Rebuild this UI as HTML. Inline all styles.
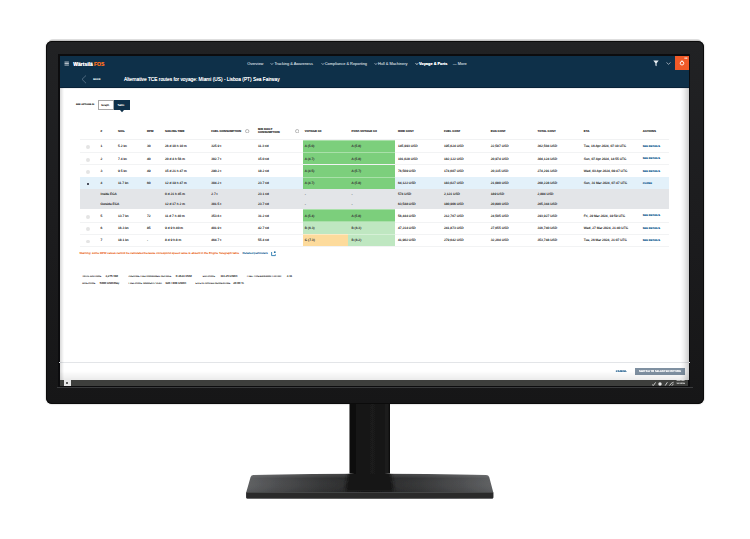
<!DOCTYPE html>
<html>
<head>
<meta charset="utf-8">
<style>
html,body{margin:0;padding:0;}
body{width:750px;height:539px;background:#fff;position:relative;overflow:hidden;font-family:"Liberation Sans",sans-serif;text-rendering:geometricPrecision;}
.a{position:absolute;}
.t{position:absolute;white-space:nowrap;line-height:1;}
#rim{left:49px;top:39px;width:652px;height:4px;background:linear-gradient(#e6e6e6,#bdbdbd);border-radius:5px 5px 0 0;}
#bezel{left:46px;top:41px;width:658px;height:363px;background:linear-gradient(#212224,#1c1c1e 50%,#161617);border-radius:6px;box-shadow:inset 0 0 0 1px #0b0b0b,0 0 1.5px rgba(0,0,0,0.45);filter:blur(0.3px);}
#scrborder{left:58px;top:54px;width:632px;height:333px;background:#0c0c0e;}
#neck{left:349px;top:403px;width:41px;height:71px;background:linear-gradient(90deg,#111 0%,#1e1e1e 30%,#232323 60%,#141414 100%);border-radius:0 0 3px 3px;}
</style>
</head>
<body>
<div class="a" id="rim"></div>
<div class="a" id="bezel"></div>
<svg class="a" style="left:0;top:0" width="750" height="539">
  <defs>
    <linearGradient id="bs" x1="246" x2="493" y1="0" y2="0" gradientUnits="userSpaceOnUse">
      <stop offset="0" stop-color="#5f6163"/>
      <stop offset="0.12" stop-color="#4d4e50"/>
      <stop offset="0.30" stop-color="#353637"/>
      <stop offset="0.5" stop-color="#242425"/>
      <stop offset="0.70" stop-color="#353637"/>
      <stop offset="0.88" stop-color="#4d4e50"/>
      <stop offset="1" stop-color="#5f6163"/>
    </linearGradient>
    <linearGradient id="bv" x1="0" x2="0" y1="475" y2="492" gradientUnits="userSpaceOnUse">
      <stop offset="0" stop-color="#fff" stop-opacity="0.10"/>
      <stop offset="0.2" stop-color="#fff" stop-opacity="0.0"/>
      <stop offset="1" stop-color="#000" stop-opacity="0.08"/>
    </linearGradient>
    <linearGradient id="nk" x1="349.5" x2="390" y1="0" y2="0" gradientUnits="userSpaceOnUse">
      <stop offset="0" stop-color="#0b0b0b"/>
      <stop offset="0.2" stop-color="#131313"/>
      <stop offset="0.55" stop-color="#1a1a1a"/>
      <stop offset="0.85" stop-color="#171717"/>
      <stop offset="0.94" stop-color="#1f1f1f"/>
      <stop offset="1" stop-color="#0d0d0d"/>
    </linearGradient>
    <filter id="blr" x="-20%" y="-50%" width="140%" height="200%"><feGaussianBlur stdDeviation="1.6"/></filter>
    <filter id="blr2"><feGaussianBlur stdDeviation="0.35"/></filter>
    <clipPath id="bclip"><path d="M253.5,475 Q369.5,472.6 486,475 Q488.5,475 489.2,477 L493.3,492.4 L246.2,492.4 L250.6,477 Q251.3,475 253.5,475 Z"/></clipPath>
  </defs>
  <g filter="url(#blr2)">
  <path d="M253.5,475 Q369.5,472.6 486,475 Q488.5,475 489.2,477 L493.3,492.4 L493.3,497.2 Q493.3,498.5 492,498.5 L247.5,498.5 Q246.2,498.5 246.2,497.2 L246.2,492.4 L250.6,477 Q251.3,475 253.5,475 Z" fill="url(#bs)"/>
  <path d="M253.5,475 Q369.5,472.6 486,475 Q488.5,475 489.2,477 L493.3,492.4 L246.2,492.4 L250.6,477 Q251.3,475 253.5,475 Z" fill="url(#bv)"/>
  <g clip-path="url(#bclip)"><path d="M348.5,470 L390.5,470 L394,492 L345,492 Z" fill="#131313" filter="url(#blr)"/></g>
  <rect x="246.2" y="492.4" width="247.1" height="6.2" rx="1" fill="#29292a"/>
  <rect x="246.2" y="492.2" width="247.1" height="0.8" fill="#4a4b4c"/>
  <path d="M349.5,404 L390,404 L390,473.5 Q369.75,476 349.5,473.5 Z" fill="url(#nk)"/>
  </g>
</svg>
<div class="a" id="scrborder"></div>
<div class="a" style="left:57px;top:387.2px;width:636px;height:1px;background:#3a3b3d;"></div>
<div class="a" id="scr" style="left:0;top:0;width:750px;height:539px;filter:blur(0.28px);">
<div class="a" style="left:59.5px;top:55.5px;width:629.5px;height:324.5px;background:#fff;"></div>
<div class="a" style="left:59.5px;top:55.5px;width:629.5px;height:32px;background:#0e3049;"></div>
<div class="a" style="left:59.5px;top:87px;width:629.5px;height:1px;background:#082238;"></div>
<div class="a" style="left:59.5px;top:88px;width:629.5px;height:1.2px;background:linear-gradient(rgba(0,20,40,0.12),rgba(0,20,40,0));"></div>
<svg class="a" style="left:64px;top:60.5px" width="5.5" height="5" viewBox="0 0 5.5 5"><rect x="0.5" y="0.6" width="4.4" height="0.9" fill="#c8d0d8"/><rect x="0.5" y="2.1" width="4.4" height="0.9" fill="#c8d0d8"/><rect x="0.5" y="3.6" width="4.4" height="0.9" fill="#c8d0d8"/></svg>
<span class="t" style="left:73.3px;top:61.70px;font-size:5.00px;color:#fff;font-weight:bold;text-shadow:0 0 0.3px #fff;text-rendering:auto;">Wärtsilä</span>
<span class="t" style="left:94px;top:61.70px;font-size:5.00px;color:#f26b21;font-weight:bold;text-shadow:0 0 0.3px #f26b21;text-rendering:auto;">FOS</span>
<span class="t" style="left:247.2px;top:61.83px;font-size:3.90px;color:#b9c4cf;font-weight:normal;text-shadow:0 0 0.3px #b9c4cf;text-rendering:auto;">Overview</span>
<svg class="a" style="left:270.2px;top:61.7px" width="4" height="4"><polyline points="0.6,1.2 1.9,2.6 3.2,1.2" fill="none" stroke="#b9c4cf" stroke-width="0.75"/></svg>
<span class="t" style="left:274.4px;top:61.83px;font-size:3.90px;color:#b9c4cf;font-weight:normal;text-shadow:0 0 0.3px #b9c4cf;text-rendering:auto;">Tracking &amp; Awareness</span>
<svg class="a" style="left:320.6px;top:61.7px" width="4" height="4"><polyline points="0.6,1.2 1.9,2.6 3.2,1.2" fill="none" stroke="#b9c4cf" stroke-width="0.75"/></svg>
<span class="t" style="left:324.8px;top:61.83px;font-size:3.90px;color:#b9c4cf;font-weight:normal;text-shadow:0 0 0.3px #b9c4cf;text-rendering:auto;">Compliance &amp; Reporting</span>
<svg class="a" style="left:373.8px;top:61.7px" width="4" height="4"><polyline points="0.6,1.2 1.9,2.6 3.2,1.2" fill="none" stroke="#b9c4cf" stroke-width="0.75"/></svg>
<span class="t" style="left:378px;top:61.83px;font-size:3.90px;color:#b9c4cf;font-weight:normal;text-shadow:0 0 0.3px #b9c4cf;text-rendering:auto;">Hull &amp; Machinery</span>
<svg class="a" style="left:414.8px;top:61.7px" width="4" height="4"><polyline points="0.6,1.2 1.9,2.6 3.2,1.2" fill="none" stroke="#fff" stroke-width="0.75"/></svg>
<span class="t" style="left:419px;top:61.83px;font-size:3.90px;color:#fff;font-weight:bold;text-shadow:0 0 0.3px #fff;text-rendering:auto;">Voyage &amp; Ports</span>
<span class="t" style="left:452.8px;top:61.83px;font-size:3.90px;color:#b9c4cf;font-weight:normal;text-shadow:0 0 0.3px #b9c4cf;text-rendering:auto;">— More</span>
<svg class="a" style="left:653px;top:59.5px" width="6" height="7"><path d="M0.3,0.5 H5.7 L3.6,3.2 V6.3 L2.4,5.6 V3.2 Z" fill="#e8edf2"/></svg>
<svg class="a" style="left:665.5px;top:61.5px" width="5" height="3"><polyline points="0.5,0.5 2.5,2.3 4.5,0.5" fill="none" stroke="#c8d0d8" stroke-width="0.7"/></svg>
<div class="a" style="left:675px;top:56px;width:14px;height:14px;background:#f05a28;"></div>
<svg class="a" style="left:679px;top:60px" width="6" height="6"><circle cx="3" cy="3.2" r="1.8" fill="none" stroke="#fff" stroke-width="0.9"/><rect x="2.5" y="0.4" width="1" height="1" fill="#fff"/></svg>
<span class="t" style="left:684.6px;top:57.88px;font-size:2.40px;color:#fbe3d6;font-weight:normal;text-shadow:0 0 0.1px #fbe3d6;">88</span>
<svg class="a" style="left:81px;top:75px" width="6" height="9"><polyline points="5,0.5 1,4.3 5,8.2" fill="none" stroke="#6c8296" stroke-width="0.7"/></svg>
<span class="t" style="left:93.3px;top:79.25px;font-size:2.50px;color:#dfe6ec;font-weight:bold;text-shadow:0 0 0.3px #dfe6ec;">BACK</span>
<span class="t" style="left:124px;top:78.16px;font-size:4.80px;color:#fff;font-weight:normal;text-shadow:0 0 0.35px #fff;text-rendering:auto;">Alternative TCE routes for voyage: Miami (US) - Lisboa (PT) Sea Fairway</span>
<span class="t" style="left:76px;top:103.92px;font-size:2.25px;color:#333;font-weight:bold;text-shadow:0 0 0.3px #333;">SEE OPTIONS IN</span>
<div class="a" style="left:97.5px;top:100px;width:16.5px;height:10px;background:#fff;box-sizing:border-box;border:0.6px solid #a8a8a8;"></div>
<span class="t" style="left:101.3px;top:104.06px;font-size:2.80px;color:#333;font-weight:normal;text-shadow:0 0 0.3px #333;">Graph</span>
<div class="a" style="left:114px;top:100px;width:15.5px;height:10px;background:#0e3049;"></div>
<span class="t" style="left:117.6px;top:104.06px;font-size:2.80px;color:#fff;font-weight:normal;text-shadow:0 0 0.3px #fff;">Table</span>
<svg class="a" style="left:120px;top:109.8px" width="4" height="3"><polygon points="0,0 4,0 2,2.2" fill="#0e3049"/></svg>
<span class="t" style="left:100.5px;top:130.03px;font-size:2.90px;color:#444;font-weight:bold;text-shadow:0 0 0.3px #444;">#</span>
<span class="t" style="left:118px;top:130.03px;font-size:2.90px;color:#444;font-weight:bold;text-shadow:0 0 0.3px #444;">SOG</span>
<span class="t" style="left:147px;top:130.03px;font-size:2.90px;color:#444;font-weight:bold;text-shadow:0 0 0.3px #444;">RPM</span>
<span class="t" style="left:165px;top:130.03px;font-size:2.90px;color:#444;font-weight:bold;text-shadow:0 0 0.3px #444;">SAILING TIME</span>
<span class="t" style="left:211.2px;top:130.03px;font-size:2.90px;color:#444;font-weight:bold;text-shadow:0 0 0.3px #444;">FUEL CONSUMPTION</span>
<span class="t" style="left:304.8px;top:130.03px;font-size:2.90px;color:#444;font-weight:bold;text-shadow:0 0 0.3px #444;">VOYAGE CII</span>
<span class="t" style="left:351.5px;top:130.03px;font-size:2.90px;color:#444;font-weight:bold;text-shadow:0 0 0.3px #444;">POST-VOYAGE CII</span>
<span class="t" style="left:398px;top:130.03px;font-size:2.90px;color:#444;font-weight:bold;text-shadow:0 0 0.3px #444;">HIRE COST</span>
<span class="t" style="left:444px;top:130.03px;font-size:2.90px;color:#444;font-weight:bold;text-shadow:0 0 0.3px #444;">FUEL COST</span>
<span class="t" style="left:490.8px;top:130.03px;font-size:2.90px;color:#444;font-weight:bold;text-shadow:0 0 0.3px #444;">EUA COST</span>
<span class="t" style="left:537.5px;top:130.03px;font-size:2.90px;color:#444;font-weight:bold;text-shadow:0 0 0.3px #444;">TOTAL COST</span>
<span class="t" style="left:583.8px;top:130.03px;font-size:2.90px;color:#444;font-weight:bold;text-shadow:0 0 0.3px #444;">ETA</span>
<span class="t" style="left:642.8px;top:130.03px;font-size:2.90px;color:#444;font-weight:bold;text-shadow:0 0 0.3px #444;">ACTIONS</span>
<span class="t" style="left:258px;top:127.93px;font-size:2.90px;color:#444;font-weight:bold;text-shadow:0 0 0.3px #444;">M/E DAILY</span>
<span class="t" style="left:258px;top:131.13px;font-size:2.90px;color:#444;font-weight:bold;text-shadow:0 0 0.3px #444;">CONSUMPTION</span>
<svg class="a" style="left:245.3px;top:128.70000000000002px" width="4.4" height="4.4"><circle cx="2.2" cy="2.2" r="1.7" fill="none" stroke="#666" stroke-width="0.45"/></svg>
<svg class="a" style="left:294.6px;top:128.70000000000002px" width="4.4" height="4.4"><circle cx="2.2" cy="2.2" r="1.7" fill="none" stroke="#666" stroke-width="0.45"/></svg>
<div class="a" style="left:80px;top:139.3px;width:589px;height:0.6px;background:#f1f2f3;"></div>
<div class="a" style="left:302.5px;top:139.9px;width:45.8px;height:12.4px;background:#a9e0a9;"></div>
<div class="a" style="left:348.3px;top:139.9px;width:46.5px;height:12.4px;background:#a9e0a9;"></div>
<div class="a" style="left:302.5px;top:140.5px;width:45.8px;height:11.200000000000001px;background:#7ccf7c;"></div>
<div class="a" style="left:348.3px;top:140.5px;width:46.5px;height:11.200000000000001px;background:#7ccf7c;"></div>
<div class="a" style="left:86.2px;top:145.40px;width:3.8px;height:3.8px;border-radius:50%;background:#e4e4e4;"></div>
<span class="t" style="left:100.5px;top:145.12px;font-size:3.25px;color:#3a3a3a;font-weight:normal;text-shadow:0 0 0.3px #3a3a3a;">1</span>
<span class="t" style="left:118px;top:145.12px;font-size:3.25px;color:#3a3a3a;font-weight:normal;text-shadow:0 0 0.3px #3a3a3a;">5.2 kn</span>
<span class="t" style="left:147px;top:145.12px;font-size:3.25px;color:#3a3a3a;font-weight:normal;text-shadow:0 0 0.3px #3a3a3a;">30</span>
<span class="t" style="left:165px;top:145.12px;font-size:3.25px;color:#3a3a3a;font-weight:normal;text-shadow:0 0 0.3px #3a3a3a;">26 d 10 h 10 m</span>
<span class="t" style="left:211.2px;top:145.12px;font-size:3.25px;color:#3a3a3a;font-weight:normal;text-shadow:0 0 0.3px #3a3a3a;">325.9 t</span>
<span class="t" style="left:258px;top:145.12px;font-size:3.25px;color:#3a3a3a;font-weight:normal;text-shadow:0 0 0.3px #3a3a3a;">11.3 t/d</span>
<span class="t" style="left:304.8px;top:145.12px;font-size:3.25px;color:#3a3a3a;font-weight:normal;text-shadow:0 0 0.3px #3a3a3a;">A (5.0)</span>
<span class="t" style="left:351.5px;top:145.12px;font-size:3.25px;color:#3a3a3a;font-weight:normal;text-shadow:0 0 0.3px #3a3a3a;">A (5.8)</span>
<span class="t" style="left:398px;top:145.12px;font-size:3.25px;color:#3a3a3a;font-weight:normal;text-shadow:0 0 0.3px #3a3a3a;">145,993 USD</span>
<span class="t" style="left:444px;top:145.12px;font-size:3.25px;color:#3a3a3a;font-weight:normal;text-shadow:0 0 0.3px #3a3a3a;">195,624 USD</span>
<span class="t" style="left:490.8px;top:145.12px;font-size:3.25px;color:#3a3a3a;font-weight:normal;text-shadow:0 0 0.3px #3a3a3a;">22,587 USD</span>
<span class="t" style="left:537.5px;top:145.12px;font-size:3.25px;color:#3a3a3a;font-weight:normal;text-shadow:0 0 0.3px #3a3a3a;">362,504 USD</span>
<span class="t" style="left:583.8px;top:145.12px;font-size:3.25px;color:#3a3a3a;font-weight:normal;text-shadow:0 0 0.3px #3a3a3a;">Tue, 16 Apr 2024, 07:10 UTC</span>
<span class="t" style="left:642.8px;top:146.00px;font-size:2.65px;color:#1d5f93;font-weight:bold;text-shadow:0 0 0.4px #1d5f93;">SEE DETAILS</span>
<div class="a" style="left:80px;top:152.0px;width:589px;height:0.6px;background:#f2f3f4;"></div>
<div class="a" style="left:302.5px;top:152.3px;width:45.8px;height:12.4px;background:#a9e0a9;"></div>
<div class="a" style="left:348.3px;top:152.3px;width:46.5px;height:12.4px;background:#a9e0a9;"></div>
<div class="a" style="left:302.5px;top:152.9px;width:45.8px;height:11.200000000000001px;background:#7ccf7c;"></div>
<div class="a" style="left:348.3px;top:152.9px;width:46.5px;height:11.200000000000001px;background:#7ccf7c;"></div>
<div class="a" style="left:86.2px;top:157.80px;width:3.8px;height:3.8px;border-radius:50%;background:#e4e4e4;"></div>
<span class="t" style="left:100.5px;top:157.53px;font-size:3.25px;color:#3a3a3a;font-weight:normal;text-shadow:0 0 0.3px #3a3a3a;">2</span>
<span class="t" style="left:118px;top:157.53px;font-size:3.25px;color:#3a3a3a;font-weight:normal;text-shadow:0 0 0.3px #3a3a3a;">7.4 kn</span>
<span class="t" style="left:147px;top:157.53px;font-size:3.25px;color:#3a3a3a;font-weight:normal;text-shadow:0 0 0.3px #3a3a3a;">40</span>
<span class="t" style="left:165px;top:157.53px;font-size:3.25px;color:#3a3a3a;font-weight:normal;text-shadow:0 0 0.3px #3a3a3a;">20 d 4 h 56 m</span>
<span class="t" style="left:211.2px;top:157.53px;font-size:3.25px;color:#3a3a3a;font-weight:normal;text-shadow:0 0 0.3px #3a3a3a;">302.7 t</span>
<span class="t" style="left:258px;top:157.53px;font-size:3.25px;color:#3a3a3a;font-weight:normal;text-shadow:0 0 0.3px #3a3a3a;">15.0 t/d</span>
<span class="t" style="left:304.8px;top:157.53px;font-size:3.25px;color:#3a3a3a;font-weight:normal;text-shadow:0 0 0.3px #3a3a3a;">A (4.7)</span>
<span class="t" style="left:351.5px;top:157.53px;font-size:3.25px;color:#3a3a3a;font-weight:normal;text-shadow:0 0 0.3px #3a3a3a;">A (5.8)</span>
<span class="t" style="left:398px;top:157.53px;font-size:3.25px;color:#3a3a3a;font-weight:normal;text-shadow:0 0 0.3px #3a3a3a;">101,028 USD</span>
<span class="t" style="left:444px;top:157.53px;font-size:3.25px;color:#3a3a3a;font-weight:normal;text-shadow:0 0 0.3px #3a3a3a;">182,122 USD</span>
<span class="t" style="left:490.8px;top:157.53px;font-size:3.25px;color:#3a3a3a;font-weight:normal;text-shadow:0 0 0.3px #3a3a3a;">20,974 USD</span>
<span class="t" style="left:537.5px;top:157.53px;font-size:3.25px;color:#3a3a3a;font-weight:normal;text-shadow:0 0 0.3px #3a3a3a;">304,124 USD</span>
<span class="t" style="left:583.8px;top:157.53px;font-size:3.25px;color:#3a3a3a;font-weight:normal;text-shadow:0 0 0.3px #3a3a3a;">Sun, 07 Apr 2024, 14:55 UTC</span>
<span class="t" style="left:642.8px;top:158.41px;font-size:2.65px;color:#1d5f93;font-weight:bold;text-shadow:0 0 0.4px #1d5f93;">SEE DETAILS</span>
<div class="a" style="left:80px;top:164.4px;width:589px;height:0.6px;background:#f2f3f4;"></div>
<div class="a" style="left:302.5px;top:164.7px;width:45.8px;height:12.5px;background:#a9e0a9;"></div>
<div class="a" style="left:348.3px;top:164.7px;width:46.5px;height:12.5px;background:#a9e0a9;"></div>
<div class="a" style="left:302.5px;top:165.29999999999998px;width:45.8px;height:11.3px;background:#7ccf7c;"></div>
<div class="a" style="left:348.3px;top:165.29999999999998px;width:46.5px;height:11.3px;background:#7ccf7c;"></div>
<div class="a" style="left:86.2px;top:170.25px;width:3.8px;height:3.8px;border-radius:50%;background:#e4e4e4;"></div>
<span class="t" style="left:100.5px;top:169.97px;font-size:3.25px;color:#3a3a3a;font-weight:normal;text-shadow:0 0 0.3px #3a3a3a;">3</span>
<span class="t" style="left:118px;top:169.97px;font-size:3.25px;color:#3a3a3a;font-weight:normal;text-shadow:0 0 0.3px #3a3a3a;">9.5 kn</span>
<span class="t" style="left:147px;top:169.97px;font-size:3.25px;color:#3a3a3a;font-weight:normal;text-shadow:0 0 0.3px #3a3a3a;">49</span>
<span class="t" style="left:165px;top:169.97px;font-size:3.25px;color:#3a3a3a;font-weight:normal;text-shadow:0 0 0.3px #3a3a3a;">15 d 21 h 47 m</span>
<span class="t" style="left:211.2px;top:169.97px;font-size:3.25px;color:#3a3a3a;font-weight:normal;text-shadow:0 0 0.3px #3a3a3a;">290.2 t</span>
<span class="t" style="left:258px;top:169.97px;font-size:3.25px;color:#3a3a3a;font-weight:normal;text-shadow:0 0 0.3px #3a3a3a;">18.2 t/d</span>
<span class="t" style="left:304.8px;top:169.97px;font-size:3.25px;color:#3a3a3a;font-weight:normal;text-shadow:0 0 0.3px #3a3a3a;">A (4.5)</span>
<span class="t" style="left:351.5px;top:169.97px;font-size:3.25px;color:#3a3a3a;font-weight:normal;text-shadow:0 0 0.3px #3a3a3a;">A (5.7)</span>
<span class="t" style="left:398px;top:169.97px;font-size:3.25px;color:#3a3a3a;font-weight:normal;text-shadow:0 0 0.3px #3a3a3a;">76,509 USD</span>
<span class="t" style="left:444px;top:169.97px;font-size:3.25px;color:#3a3a3a;font-weight:normal;text-shadow:0 0 0.3px #3a3a3a;">174,607 USD</span>
<span class="t" style="left:490.8px;top:169.97px;font-size:3.25px;color:#3a3a3a;font-weight:normal;text-shadow:0 0 0.3px #3a3a3a;">20,115 USD</span>
<span class="t" style="left:537.5px;top:169.97px;font-size:3.25px;color:#3a3a3a;font-weight:normal;text-shadow:0 0 0.3px #3a3a3a;">274,291 USD</span>
<span class="t" style="left:583.8px;top:169.97px;font-size:3.25px;color:#3a3a3a;font-weight:normal;text-shadow:0 0 0.3px #3a3a3a;">Wed, 03 Apr 2024, 09:47 UTC</span>
<span class="t" style="left:642.8px;top:170.85px;font-size:2.65px;color:#1d5f93;font-weight:bold;text-shadow:0 0 0.4px #1d5f93;">SEE DETAILS</span>
<div class="a" style="left:80px;top:176.89999999999998px;width:589px;height:0.6px;background:#f2f3f4;"></div>
<div class="a" style="left:80px;top:177.2px;width:589px;height:12.0px;background:#e3f1fa;"></div>
<div class="a" style="left:302.5px;top:177.2px;width:45.8px;height:12.0px;background:#a9e0a9;"></div>
<div class="a" style="left:348.3px;top:177.2px;width:46.5px;height:12.0px;background:#a9e0a9;"></div>
<div class="a" style="left:302.5px;top:177.79999999999998px;width:45.8px;height:10.8px;background:#7ccf7c;"></div>
<div class="a" style="left:348.3px;top:177.79999999999998px;width:46.5px;height:10.8px;background:#7ccf7c;"></div>
<div class="a" style="left:87.1px;top:182.60px;width:2.3px;height:2.3px;border-radius:50%;background:#1a1a2a;"></div>
<span class="t" style="left:100.5px;top:182.22px;font-size:3.25px;color:#3a3a3a;font-weight:normal;text-shadow:0 0 0.3px #3a3a3a;">4</span>
<span class="t" style="left:118px;top:182.22px;font-size:3.25px;color:#3a3a3a;font-weight:normal;text-shadow:0 0 0.3px #3a3a3a;">11.7 kn</span>
<span class="t" style="left:147px;top:182.22px;font-size:3.25px;color:#3a3a3a;font-weight:normal;text-shadow:0 0 0.3px #3a3a3a;">60</span>
<span class="t" style="left:165px;top:182.22px;font-size:3.25px;color:#3a3a3a;font-weight:normal;text-shadow:0 0 0.3px #3a3a3a;">12 d 19 h 47 m</span>
<span class="t" style="left:211.2px;top:182.22px;font-size:3.25px;color:#3a3a3a;font-weight:normal;text-shadow:0 0 0.3px #3a3a3a;">304.2 t</span>
<span class="t" style="left:258px;top:182.22px;font-size:3.25px;color:#3a3a3a;font-weight:normal;text-shadow:0 0 0.3px #3a3a3a;">23.7 t/d</span>
<span class="t" style="left:304.8px;top:182.22px;font-size:3.25px;color:#3a3a3a;font-weight:normal;text-shadow:0 0 0.3px #3a3a3a;">A (4.7)</span>
<span class="t" style="left:351.5px;top:182.22px;font-size:3.25px;color:#3a3a3a;font-weight:normal;text-shadow:0 0 0.3px #3a3a3a;">A (5.8)</span>
<span class="t" style="left:398px;top:182.22px;font-size:3.25px;color:#3a3a3a;font-weight:normal;text-shadow:0 0 0.3px #3a3a3a;">64,122 USD</span>
<span class="t" style="left:444px;top:182.22px;font-size:3.25px;color:#3a3a3a;font-weight:normal;text-shadow:0 0 0.3px #3a3a3a;">183,027 USD</span>
<span class="t" style="left:490.8px;top:182.22px;font-size:3.25px;color:#3a3a3a;font-weight:normal;text-shadow:0 0 0.3px #3a3a3a;">21,080 USD</span>
<span class="t" style="left:537.5px;top:182.22px;font-size:3.25px;color:#3a3a3a;font-weight:normal;text-shadow:0 0 0.3px #3a3a3a;">268,228 USD</span>
<span class="t" style="left:583.8px;top:182.22px;font-size:3.25px;color:#3a3a3a;font-weight:normal;text-shadow:0 0 0.3px #3a3a3a;">Sun, 31 Mar 2024, 07:47 UTC</span>
<span class="t" style="left:642.8px;top:183.10px;font-size:2.65px;color:#1d5f93;font-weight:bold;text-shadow:0 0 0.4px #1d5f93;">CLOSE</span>
<div class="a" style="left:80px;top:189.2px;width:589px;height:20.1px;background:#e3e5e8;"></div>
<span class="t" style="left:100.5px;top:193.33px;font-size:3.25px;color:#3a3a3a;font-weight:normal;text-shadow:0 0 0.3px #3a3a3a;">Inside ECA</span>
<span class="t" style="left:165px;top:193.33px;font-size:3.25px;color:#3a3a3a;font-weight:normal;text-shadow:0 0 0.3px #3a3a3a;">0 d 21 h 45 m</span>
<span class="t" style="left:211.2px;top:193.33px;font-size:3.25px;color:#3a3a3a;font-weight:normal;text-shadow:0 0 0.3px #3a3a3a;">2.7 t</span>
<span class="t" style="left:258px;top:193.33px;font-size:3.25px;color:#3a3a3a;font-weight:normal;text-shadow:0 0 0.3px #3a3a3a;">23.1 t/d</span>
<span class="t" style="left:304.8px;top:193.33px;font-size:3.25px;color:#3a3a3a;font-weight:normal;text-shadow:0 0 0.3px #3a3a3a;">-</span>
<span class="t" style="left:351.5px;top:193.33px;font-size:3.25px;color:#3a3a3a;font-weight:normal;text-shadow:0 0 0.3px #3a3a3a;">-</span>
<span class="t" style="left:398px;top:193.33px;font-size:3.25px;color:#3a3a3a;font-weight:normal;text-shadow:0 0 0.3px #3a3a3a;">574 USD</span>
<span class="t" style="left:444px;top:193.33px;font-size:3.25px;color:#3a3a3a;font-weight:normal;text-shadow:0 0 0.3px #3a3a3a;">2,121 USD</span>
<span class="t" style="left:490.8px;top:193.33px;font-size:3.25px;color:#3a3a3a;font-weight:normal;text-shadow:0 0 0.3px #3a3a3a;">189 USD</span>
<span class="t" style="left:537.5px;top:193.33px;font-size:3.25px;color:#3a3a3a;font-weight:normal;text-shadow:0 0 0.3px #3a3a3a;">2,884 USD</span>
<span class="t" style="left:100.5px;top:203.33px;font-size:3.25px;color:#3a3a3a;font-weight:normal;text-shadow:0 0 0.3px #3a3a3a;">Outside ECA</span>
<span class="t" style="left:165px;top:203.33px;font-size:3.25px;color:#3a3a3a;font-weight:normal;text-shadow:0 0 0.3px #3a3a3a;">12 d 17 h 2 m</span>
<span class="t" style="left:211.2px;top:203.33px;font-size:3.25px;color:#3a3a3a;font-weight:normal;text-shadow:0 0 0.3px #3a3a3a;">301.5 t</span>
<span class="t" style="left:258px;top:203.33px;font-size:3.25px;color:#3a3a3a;font-weight:normal;text-shadow:0 0 0.3px #3a3a3a;">23.7 t/d</span>
<span class="t" style="left:304.8px;top:203.33px;font-size:3.25px;color:#3a3a3a;font-weight:normal;text-shadow:0 0 0.3px #3a3a3a;">-</span>
<span class="t" style="left:351.5px;top:203.33px;font-size:3.25px;color:#3a3a3a;font-weight:normal;text-shadow:0 0 0.3px #3a3a3a;">-</span>
<span class="t" style="left:398px;top:203.33px;font-size:3.25px;color:#3a3a3a;font-weight:normal;text-shadow:0 0 0.3px #3a3a3a;">63,548 USD</span>
<span class="t" style="left:444px;top:203.33px;font-size:3.25px;color:#3a3a3a;font-weight:normal;text-shadow:0 0 0.3px #3a3a3a;">180,906 USD</span>
<span class="t" style="left:490.8px;top:203.33px;font-size:3.25px;color:#3a3a3a;font-weight:normal;text-shadow:0 0 0.3px #3a3a3a;">20,890 USD</span>
<span class="t" style="left:537.5px;top:203.33px;font-size:3.25px;color:#3a3a3a;font-weight:normal;text-shadow:0 0 0.3px #3a3a3a;">265,344 USD</span>
<div class="a" style="left:302.5px;top:209.3px;width:45.8px;height:12.5px;background:#a9e0a9;"></div>
<div class="a" style="left:348.3px;top:209.3px;width:46.5px;height:12.5px;background:#a9e0a9;"></div>
<div class="a" style="left:302.5px;top:209.9px;width:45.8px;height:11.3px;background:#7ccf7c;"></div>
<div class="a" style="left:348.3px;top:209.9px;width:46.5px;height:11.3px;background:#7ccf7c;"></div>
<div class="a" style="left:86.2px;top:214.85px;width:3.8px;height:3.8px;border-radius:50%;background:#e4e4e4;"></div>
<span class="t" style="left:100.5px;top:214.58px;font-size:3.25px;color:#3a3a3a;font-weight:normal;text-shadow:0 0 0.3px #3a3a3a;">5</span>
<span class="t" style="left:118px;top:214.58px;font-size:3.25px;color:#3a3a3a;font-weight:normal;text-shadow:0 0 0.3px #3a3a3a;">13.7 kn</span>
<span class="t" style="left:147px;top:214.58px;font-size:3.25px;color:#3a3a3a;font-weight:normal;text-shadow:0 0 0.3px #3a3a3a;">72</span>
<span class="t" style="left:165px;top:214.58px;font-size:3.25px;color:#3a3a3a;font-weight:normal;text-shadow:0 0 0.3px #3a3a3a;">11 d 7 h 40 m</span>
<span class="t" style="left:211.2px;top:214.58px;font-size:3.25px;color:#3a3a3a;font-weight:normal;text-shadow:0 0 0.3px #3a3a3a;">353.6 t</span>
<span class="t" style="left:258px;top:214.58px;font-size:3.25px;color:#3a3a3a;font-weight:normal;text-shadow:0 0 0.3px #3a3a3a;">31.2 t/d</span>
<span class="t" style="left:304.8px;top:214.58px;font-size:3.25px;color:#3a3a3a;font-weight:normal;text-shadow:0 0 0.3px #3a3a3a;">A (5.4)</span>
<span class="t" style="left:351.5px;top:214.58px;font-size:3.25px;color:#3a3a3a;font-weight:normal;text-shadow:0 0 0.3px #3a3a3a;">A (5.8)</span>
<span class="t" style="left:398px;top:214.58px;font-size:3.25px;color:#3a3a3a;font-weight:normal;text-shadow:0 0 0.3px #3a3a3a;">56,444 USD</span>
<span class="t" style="left:444px;top:214.58px;font-size:3.25px;color:#3a3a3a;font-weight:normal;text-shadow:0 0 0.3px #3a3a3a;">212,767 USD</span>
<span class="t" style="left:490.8px;top:214.58px;font-size:3.25px;color:#3a3a3a;font-weight:normal;text-shadow:0 0 0.3px #3a3a3a;">24,505 USD</span>
<span class="t" style="left:537.5px;top:214.58px;font-size:3.25px;color:#3a3a3a;font-weight:normal;text-shadow:0 0 0.3px #3a3a3a;">293,927 USD</span>
<span class="t" style="left:583.8px;top:214.58px;font-size:3.25px;color:#3a3a3a;font-weight:normal;text-shadow:0 0 0.3px #3a3a3a;">Fri, 29 Mar 2024, 19:59 UTC</span>
<span class="t" style="left:642.8px;top:215.46px;font-size:2.65px;color:#1d5f93;font-weight:bold;text-shadow:0 0 0.4px #1d5f93;">SEE DETAILS</span>
<div class="a" style="left:80px;top:221.5px;width:589px;height:0.6px;background:#f2f3f4;"></div>
<div class="a" style="left:302.5px;top:221.8px;width:45.8px;height:12.4px;background:#d5f0d6;"></div>
<div class="a" style="left:348.3px;top:221.8px;width:46.5px;height:12.4px;background:#d5f0d6;"></div>
<div class="a" style="left:302.5px;top:222.4px;width:45.8px;height:11.200000000000001px;background:#bfe7c1;"></div>
<div class="a" style="left:348.3px;top:222.4px;width:46.5px;height:11.200000000000001px;background:#bfe7c1;"></div>
<div class="a" style="left:86.2px;top:227.30px;width:3.8px;height:3.8px;border-radius:50%;background:#e4e4e4;"></div>
<span class="t" style="left:100.5px;top:227.03px;font-size:3.25px;color:#3a3a3a;font-weight:normal;text-shadow:0 0 0.3px #3a3a3a;">6</span>
<span class="t" style="left:118px;top:227.03px;font-size:3.25px;color:#3a3a3a;font-weight:normal;text-shadow:0 0 0.3px #3a3a3a;">16.3 kn</span>
<span class="t" style="left:147px;top:227.03px;font-size:3.25px;color:#3a3a3a;font-weight:normal;text-shadow:0 0 0.3px #3a3a3a;">85</span>
<span class="t" style="left:165px;top:227.03px;font-size:3.25px;color:#3a3a3a;font-weight:normal;text-shadow:0 0 0.3px #3a3a3a;">9 d 9 h 40 m</span>
<span class="t" style="left:211.2px;top:227.03px;font-size:3.25px;color:#3a3a3a;font-weight:normal;text-shadow:0 0 0.3px #3a3a3a;">401.9 t</span>
<span class="t" style="left:258px;top:227.03px;font-size:3.25px;color:#3a3a3a;font-weight:normal;text-shadow:0 0 0.3px #3a3a3a;">42.7 t/d</span>
<span class="t" style="left:304.8px;top:227.03px;font-size:3.25px;color:#3a3a3a;font-weight:normal;text-shadow:0 0 0.3px #3a3a3a;">B (6.3)</span>
<span class="t" style="left:351.5px;top:227.03px;font-size:3.25px;color:#3a3a3a;font-weight:normal;text-shadow:0 0 0.3px #3a3a3a;">B (6.3)</span>
<span class="t" style="left:398px;top:227.03px;font-size:3.25px;color:#3a3a3a;font-weight:normal;text-shadow:0 0 0.3px #3a3a3a;">47,214 USD</span>
<span class="t" style="left:444px;top:227.03px;font-size:3.25px;color:#3a3a3a;font-weight:normal;text-shadow:0 0 0.3px #3a3a3a;">241,873 USD</span>
<span class="t" style="left:490.8px;top:227.03px;font-size:3.25px;color:#3a3a3a;font-weight:normal;text-shadow:0 0 0.3px #3a3a3a;">27,655 USD</span>
<span class="t" style="left:537.5px;top:227.03px;font-size:3.25px;color:#3a3a3a;font-weight:normal;text-shadow:0 0 0.3px #3a3a3a;">316,740 USD</span>
<span class="t" style="left:583.8px;top:227.03px;font-size:3.25px;color:#3a3a3a;font-weight:normal;text-shadow:0 0 0.3px #3a3a3a;">Wed, 27 Mar 2024, 21:40 UTC</span>
<span class="t" style="left:642.8px;top:227.91px;font-size:2.65px;color:#1d5f93;font-weight:bold;text-shadow:0 0 0.4px #1d5f93;">SEE DETAILS</span>
<div class="a" style="left:80px;top:233.9px;width:589px;height:0.6px;background:#f2f3f4;"></div>
<div class="a" style="left:302.5px;top:234.2px;width:45.8px;height:12.4px;background:#fde9c2;"></div>
<div class="a" style="left:348.3px;top:234.2px;width:46.5px;height:12.4px;background:#d5f0d6;"></div>
<div class="a" style="left:302.5px;top:234.79999999999998px;width:45.8px;height:11.200000000000001px;background:#fddb9c;"></div>
<div class="a" style="left:348.3px;top:234.79999999999998px;width:46.5px;height:11.200000000000001px;background:#bfe7c1;"></div>
<div class="a" style="left:86.2px;top:239.70px;width:3.8px;height:3.8px;border-radius:50%;background:#e4e4e4;"></div>
<span class="t" style="left:100.5px;top:239.42px;font-size:3.25px;color:#3a3a3a;font-weight:normal;text-shadow:0 0 0.3px #3a3a3a;">7</span>
<span class="t" style="left:118px;top:239.42px;font-size:3.25px;color:#3a3a3a;font-weight:normal;text-shadow:0 0 0.3px #3a3a3a;">18.1 kn</span>
<span class="t" style="left:147px;top:239.42px;font-size:3.25px;color:#3a3a3a;font-weight:normal;text-shadow:0 0 0.3px #3a3a3a;">-</span>
<span class="t" style="left:165px;top:239.42px;font-size:3.25px;color:#3a3a3a;font-weight:normal;text-shadow:0 0 0.3px #3a3a3a;">8 d 9 h 8 m</span>
<span class="t" style="left:211.2px;top:239.42px;font-size:3.25px;color:#3a3a3a;font-weight:normal;text-shadow:0 0 0.3px #3a3a3a;">464.7 t</span>
<span class="t" style="left:258px;top:239.42px;font-size:3.25px;color:#3a3a3a;font-weight:normal;text-shadow:0 0 0.3px #3a3a3a;">55.4 t/d</span>
<span class="t" style="left:304.8px;top:239.42px;font-size:3.25px;color:#3a3a3a;font-weight:normal;text-shadow:0 0 0.3px #3a3a3a;">C (7.3)</span>
<span class="t" style="left:351.5px;top:239.42px;font-size:3.25px;color:#3a3a3a;font-weight:normal;text-shadow:0 0 0.3px #3a3a3a;">B (6.2)</span>
<span class="t" style="left:398px;top:239.42px;font-size:3.25px;color:#3a3a3a;font-weight:normal;text-shadow:0 0 0.3px #3a3a3a;">41,902 USD</span>
<span class="t" style="left:444px;top:239.42px;font-size:3.25px;color:#3a3a3a;font-weight:normal;text-shadow:0 0 0.3px #3a3a3a;">279,642 USD</span>
<span class="t" style="left:490.8px;top:239.42px;font-size:3.25px;color:#3a3a3a;font-weight:normal;text-shadow:0 0 0.3px #3a3a3a;">32,204 USD</span>
<span class="t" style="left:537.5px;top:239.42px;font-size:3.25px;color:#3a3a3a;font-weight:normal;text-shadow:0 0 0.3px #3a3a3a;">353,748 USD</span>
<span class="t" style="left:583.8px;top:239.42px;font-size:3.25px;color:#3a3a3a;font-weight:normal;text-shadow:0 0 0.3px #3a3a3a;">Tue, 26 Mar 2024, 21:07 UTC</span>
<span class="t" style="left:642.8px;top:240.30px;font-size:2.65px;color:#1d5f93;font-weight:bold;text-shadow:0 0 0.4px #1d5f93;">SEE DETAILS</span>
<div class="a" style="left:80px;top:246.29999999999998px;width:589px;height:0.6px;background:#f2f3f4;"></div>
<span class="t" style="left:79.5px;top:252.42px;font-size:2.95px;color:#ea6a2a;font-weight:normal;text-shadow:0 0 0.15px #ea6a2a;">Warning: some RPM values cannot be calculated because correspond speed value is absent in the Engine Telegraph table</span>
<span class="t" style="left:242.5px;top:252.42px;font-size:2.95px;color:#2a6a9a;font-weight:normal;text-shadow:0 0 0.15px #2a6a9a;">Detailed particulars</span>
<svg class="a" style="left:270px;top:250px" width="7" height="7" viewBox="0 0 7 7"><path d="M1.6,2 V5.6 H5.4 V4.4" fill="none" stroke="#2a7ab0" stroke-width="0.9"/><circle cx="4.8" cy="2.2" r="0.9" fill="#1b6aa0"/></svg>
<span class="t" style="left:82.2px;top:276.21px;font-size:2.30px;color:#3a3a3a;font-weight:normal;text-shadow:0 0 0.3px #3a3a3a;">TOTAL DISTANCE</span>
<span class="t" style="left:105.4px;top:274.83px;font-size:2.90px;color:#383838;font-weight:normal;text-shadow:0 0 0.3px #383838;">3,275 NM</span>
<span class="t" style="left:128.6px;top:276.21px;font-size:2.30px;color:#3a3a3a;font-weight:normal;text-shadow:0 0 0.3px #3a3a3a;">AVERAGE FUEL CONSUMED PER MILE</span>
<span class="t" style="left:175.8px;top:274.83px;font-size:2.90px;color:#383838;font-weight:normal;text-shadow:0 0 0.3px #383838;">0.3623 t/NM</span>
<span class="t" style="left:202.8px;top:276.21px;font-size:2.30px;color:#3a3a3a;font-weight:normal;text-shadow:0 0 0.3px #3a3a3a;">EUA PRICE</span>
<span class="t" style="left:220.4px;top:274.83px;font-size:2.90px;color:#383838;font-weight:normal;text-shadow:0 0 0.3px #383838;">111.25 USD/t</span>
<span class="t" style="left:247px;top:276.21px;font-size:2.30px;color:#3a3a3a;font-weight:normal;text-shadow:0 0 0.3px #3a3a3a;">FUEL TYPE/EMISSION FACTOR</span>
<span class="t" style="left:286.8px;top:274.83px;font-size:2.90px;color:#383838;font-weight:normal;text-shadow:0 0 0.3px #383838;">3.11</span>
<span class="t" style="left:82.2px;top:283.11px;font-size:2.30px;color:#3a3a3a;font-weight:normal;text-shadow:0 0 0.3px #3a3a3a;">HIRE PRICE</span>
<span class="t" style="left:99.8px;top:281.73px;font-size:2.90px;color:#383838;font-weight:normal;text-shadow:0 0 0.3px #383838;">5000 USD/Day</span>
<span class="t" style="left:128.6px;top:283.11px;font-size:2.30px;color:#3a3a3a;font-weight:normal;text-shadow:0 0 0.3px #3a3a3a;">FUEL PRICE, MGO/ECA / VLSA</span>
<span class="t" style="left:165.4px;top:281.73px;font-size:2.90px;color:#383838;font-weight:normal;text-shadow:0 0 0.3px #383838;">920 / 808 USD/t</span>
<span class="t" style="left:195.6px;top:283.11px;font-size:2.30px;color:#3a3a3a;font-weight:normal;text-shadow:0 0 0.3px #3a3a3a;">EU ETS APPLIED PERCENTAGE</span>
<span class="t" style="left:233.2px;top:281.73px;font-size:2.90px;color:#383838;font-weight:normal;text-shadow:0 0 0.3px #383838;">20.00 %</span>
<div class="a" style="left:59px;top:362px;width:631px;height:0.6px;background:#e3e5e8;"></div>
<span class="t" style="left:615.8px;top:371.09px;font-size:2.70px;color:#1b5a8a;font-weight:bold;text-shadow:0 0 0.3px #1b5a8a;">CANCEL</span>
<div class="a" style="left:635px;top:367.5px;width:50px;height:7.7px;background:#7f90a1;"></div>
<span class="t" style="left:638.9px;top:371.18px;font-size:2.74px;color:#fff;font-weight:bold;text-shadow:0 0 0.3px #fff;">SWITCH TO SELECTED OPTION</span>
<div class="a" style="left:59.5px;top:371px;width:629.5px;height:9px;background:linear-gradient(rgba(0,0,0,0),rgba(0,0,0,0.08));"></div>
<div class="a" style="left:680px;top:88px;width:9px;height:292px;background:linear-gradient(90deg,rgba(0,0,0,0),rgba(0,0,0,0.05) 40%,rgba(0,0,0,0.20));"></div>
<div class="a" style="left:59.5px;top:88px;width:4px;height:292px;background:linear-gradient(90deg,rgba(0,0,0,0.15),rgba(0,0,0,0));"></div>
<div class="a" style="left:59.5px;top:380px;width:628.5px;height:6px;background:#3d3e3c;"></div>
<div class="a" style="left:63.6px;top:380px;width:7.6px;height:5.6px;background:#e6e6e6;"></div>
<div class="a" style="left:66.3px;top:381.9px;width:1.8px;height:1.8px;border-radius:50%;background:#333;"></div>
<svg class="a" style="left:651px;top:380.5px" width="24" height="5.5" viewBox="0 0 24 5.5">
<path d="M1.2,3.6 L2.3,4.6 L4.6,1.4" fill="none" stroke="#e8e8e8" stroke-width="0.8"/>
<circle cx="9" cy="3" r="1.7" fill="#e8e8e8"/>
<path d="M14.2,4.6 L16.4,1.2" fill="none" stroke="#e8e8e8" stroke-width="0.8"/>
<path d="M18.6,4.6 Q19.6,2.0 22.6,1.2 M20.6,4.6 L22.6,3" fill="none" stroke="#e8e8e8" stroke-width="0.8"/>
</svg>
<span class="t" style="left:676.5px;top:380.73px;font-size:1.90px;color:#eee;font-weight:normal;text-shadow:0 0 0.3px #eee;">11:07 AM</span>
<span class="t" style="left:676.5px;top:383.53px;font-size:1.90px;color:#eee;font-weight:normal;text-shadow:0 0 0.3px #eee;">3/10/2024</span>
</div>
</body>
</html>
